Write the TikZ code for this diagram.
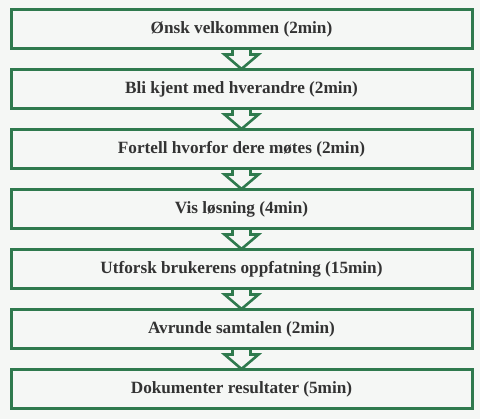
\documentclass[tikz,border=0pt]{standalone}
\usepackage{fontspec}
\setmainfont{Liberation Serif}
\definecolor{bg}{HTML}{F5F7F5}
\definecolor{grn}{HTML}{2F7A4E}
\definecolor{txt}{HTML}{333333}
\tikzset{
  stepbox/.style={draw=grn, line width=3pt, fill=bg, minimum width=461pt, minimum height=39pt,
    inner sep=0pt, text=txt, font=\bfseries\fontsize{17.2}{20}\selectfont},
  arrowline/.style={draw=grn, line width=2.6pt, line join=miter},
}
\begin{document}
\begin{tikzpicture}[x=1pt,y=1pt]
\fill[bg] (0,0) rectangle (480,-419);
\useasboundingbox (0,0) rectangle (480,-419);
\foreach \t [count=\i from 0] in {Ønsk velkommen (2min),Bli kjent med hverandre (2min),Fortell hvorfor dere møtes (2min),Vis løsning (4min),Utforsk brukerens oppfatning (15min),Avrunde samtalen (2min),Dokumenter resultater (5min)}{
  \node[stepbox] (b\i) at (241.5,{-29.5-60*\i}) {\t};
}
\foreach \i [evaluate=\i as \j using int(\i+1)] in {0,...,5}{
  \path (b\i.south) coordinate (s\i);
  \path (b\j.north) coordinate (n\i);
  \fill[bg] ([xshift=-9pt]s\i) -- ([xshift=-9pt,yshift=-4pt]s\i) -- ([xshift=-17pt,yshift=-4pt]s\i)
     -- (n\i) -- ([xshift=17pt,yshift=-4pt]s\i) -- ([xshift=9pt,yshift=-4pt]s\i) -- ([xshift=9pt]s\i) -- cycle;
  \draw[arrowline] ([xshift=-9pt,yshift=0.5pt]s\i) -- ([xshift=-9pt,yshift=-4pt]s\i) -- ([xshift=-17pt,yshift=-4pt]s\i)
     -- ([yshift=-0.5pt]n\i) -- ([xshift=17pt,yshift=-4pt]s\i) -- ([xshift=9pt,yshift=-4pt]s\i) -- ([xshift=9pt,yshift=0.5pt]s\i);
}
\end{tikzpicture}
\end{document}
